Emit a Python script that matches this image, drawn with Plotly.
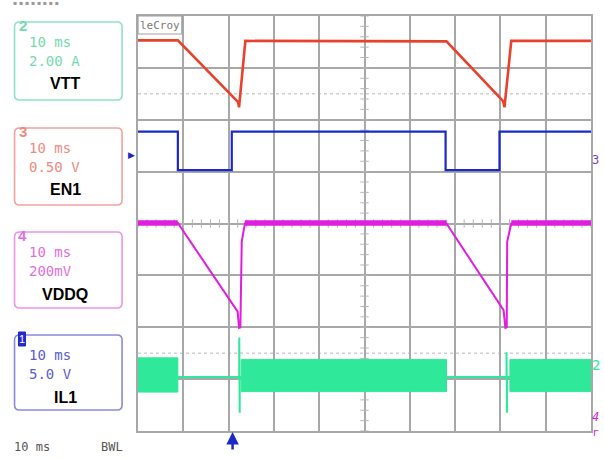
import numpy as np
import plotly.graph_objects as go

# ---------------- data (time in ms, value in screen divisions, 0 = bottom, 8 = top) -------------
vtt_t = [0, 8.8, 22.1, 22.3, 22.4, 23.7, 68.1, 80.6, 80.9, 81.0, 82.4, 100]
vtt_v = [7.53, 7.53, 6.34, 6.24, 6.33, 7.52, 7.51, 6.36, 6.24, 6.33, 7.52, 7.52]

en1_t = [0, 8.8, 8.8, 20.7, 20.7, 67.9, 67.9, 79.8, 79.8, 100]
en1_v = [5.77, 5.77, 5.03, 5.03, 5.77, 5.77, 5.03, 5.03, 5.77, 5.77]

vddq_t = [0, 8.8, 22.0, 22.3, 22.6, 22.9, 23.6, 68.1, 80.7, 81.1, 81.4, 81.5, 82.4, 100]
vddq_v = [4.01, 4.01, 2.30, 1.99, 2.00, 3.65, 4.00, 4.00, 2.33, 1.99, 2.00, 3.65, 4.00, 4.00]
vddq_ripple_start = [0, 23.6, 82.4]
vddq_ripple_end = [8.8, 68.1, 100]
vddq_ripple_top = [4.065, 4.065, 4.065]
vddq_ripple_bot = [3.955, 3.955, 3.955]

il1_band_start = [0, 22.8, 82.1]
il1_band_end = [8.8, 68.1, 100]
il1_band_top = [1.41, 1.38, 1.38]
il1_band_bot = [0.75, 0.76, 0.76]
il1_idle_t = [8.8, 22.35, 22.35, 22.45, 22.45, 22.8, None, 68.1, 81.35, 81.35, 81.45, 81.45, 82.1]
il1_idle_v = [1.04, 1.04, 1.80, 0.35, 1.04, 1.04, None, 1.04, 1.04, 1.52, 0.35, 1.04, 1.04]

channel_boxes = [
    # (channel, line1, line2, name, colour of border, colour of text, top px, bottom px)
    ("2", "10 ms", "2.00 A", "VTT", "#8fe3c2", "#74dcae", 22, 100),
    ("3", "10 ms", "0.50 V", "EN1", "#f2a3a0", "#ef8a80", 128, 205),
    ("4", "10 ms", "200mV", "VDDQ", "#eb95eb", "#e070e0", 232, 308),
    ("1", "10 ms", "5.0 V", "IL1", "#8a8ad8", "#5c5cd0", 335, 410),
]

RED = "#e8412c"
BLUE = "#1c28c8"
MAG = "#e01ee0"
GREEN = "#2fe89a"

# ---------------- geometry helpers (pixel -> paper) ----------------
W, H = 604, 459
L, R, T, B = 138, 593, 16, 431


def fx(p):
    return (p - L) / (R - L)


def fy(p):
    return (B - p) / (B - T)


fig = go.Figure()

# center graticule ticks
fig.add_trace(go.Scatter(x=np.arange(0, 100.01, 2), y=[4] * 51, mode="markers",
                         marker=dict(symbol="line-ns", size=6, line=dict(color="#b5b5b5", width=1)),
                         hoverinfo="skip", showlegend=False))
fig.add_trace(go.Scatter(x=[50] * 41, y=np.arange(0, 8.01, 0.2), mode="markers",
                         marker=dict(symbol="line-ew", size=6, line=dict(color="#b5b5b5", width=1)),
                         hoverinfo="skip", showlegend=False))

# IL1 switching band
for s, e, tp, bt in zip(il1_band_start, il1_band_end, il1_band_top, il1_band_bot):
    fig.add_trace(go.Scatter(x=[s, e, e, s, s], y=[tp, tp, bt, bt, tp], mode="lines",
                             fill="toself", fillcolor=GREEN, line=dict(color=GREEN, width=1),
                             hoverinfo="skip", showlegend=False))
fig.add_trace(go.Scatter(x=il1_idle_t, y=il1_idle_v, mode="lines",
                         line=dict(color=GREEN, width=2), showlegend=False))

# VDDQ ripple + trace
for s, e, tp, bt in zip(vddq_ripple_start, vddq_ripple_end, vddq_ripple_top, vddq_ripple_bot):
    fig.add_trace(go.Scatter(x=[s, e, e, s, s], y=[tp, tp, bt, bt, tp], mode="lines",
                             fill="toself", fillcolor=MAG, line=dict(color=MAG, width=0),
                             hoverinfo="skip", showlegend=False))
fig.add_trace(go.Scatter(x=vddq_t, y=vddq_v, mode="lines",
                         line=dict(color=MAG, width=2), showlegend=False))

# EN1
fig.add_trace(go.Scatter(x=en1_t, y=en1_v, mode="lines",
                         line=dict(color=BLUE, width=2.2), showlegend=False))
# VTT
fig.add_trace(go.Scatter(x=vtt_t, y=vtt_v, mode="lines",
                         line=dict(color=RED, width=2.6), showlegend=False))

shapes = []
annotations = []


def note(x, y, text, size, color, family="DejaVu Sans Mono", xanchor="center", **kw):
    d = dict(xref="paper", yref="paper", x=fx(x), y=fy(y), text=text, showarrow=False,
             xanchor=xanchor, yanchor="middle", font=dict(family=family, size=size, color=color))
    d.update(kw)
    annotations.append(d)


# light dotted reference lines
for yv in (6.5, 1.5):
    shapes.append(dict(type="line", xref="x", yref="y", x0=0, x1=100, y0=yv, y1=yv,
                       line=dict(color="#cfcfcf", width=1.5, dash="dot"), layer="below"))

# LeCroy tag
shapes.append(dict(type="rect", xref="paper", yref="paper", x0=fx(138), x1=fx(182), y0=fy(34), y1=fy(16),
                   line=dict(color="#a0a0a0", width=1.2), fillcolor="white"))
note(160, 26, "leCroy", 11, "#7a7a7a")


def rbox(x0, y0, x1, y1, r=5):
    a, b = fx(x0), fx(x1)
    top, bot = fy(y0), fy(y1)
    rx, ry = r / (R - L), r / (B - T)
    return (f"M {a+rx},{top} L {b-rx},{top} Q {b},{top} {b},{top-ry} L {b},{bot+ry} "
            f"Q {b},{bot} {b-rx},{bot} L {a+rx},{bot} Q {a},{bot} {a},{bot+ry} "
            f"L {a},{top-ry} Q {a},{top} {a+rx},{top} Z")


for ch, l1, l2, name, bcol, tcol, top, bot in channel_boxes:
    shapes.append(dict(type="path", xref="paper", yref="paper", path=rbox(14, top, 122, bot),
                       line=dict(color=bcol, width=1.6)))
    note(27, top + 20, l1, 14, tcol, xanchor="left")
    note(27, top + 39, l2, 14, tcol, xanchor="left")
    note(65, top + 62, f"<b>{name}</b>", 16, "black", family="Liberation Sans")
    if ch == "1":
        shapes.append(dict(type="rect", xref="paper", yref="paper", x0=fx(18), x1=fx(25), y0=fy(346), y1=fy(332),
                           line=dict(color=BLUE, width=1), fillcolor="#2a2ad0"))
        note(21.5, 339, "1", 11, "white", family="Liberation Sans")
    else:
        note(22, top + 3, f"<b>{ch}</b>", 15, tcol, family="Liberation Sans")

# bottom status texts
note(11, 447, "10 ms", 12, "#555555", xanchor="left")
note(99, 447, "BWL", 12, "#555555", xanchor="left")
# cut-off top text
note(10, 3, "▪ ▪ ▪ ▪ ▪ ▪ ▪ ▪", 6, "#9a9a9a", family="DejaVu Sans", xanchor="left")

# trigger arrow
annotations.append(dict(xref="paper", yref="paper", x=fx(233), y=fy(432), ax=0, ay=19, text="",
                        showarrow=True, arrowhead=2, arrowsize=1, arrowwidth=2.5, arrowcolor=BLUE))
# left channel marker
note(131, 155, "▶", 9, BLUE, family="DejaVu Sans")
# right side markers
note(598, 160, "3", 12, "#7a3ac8")
note(598, 365, "2", 14, GREEN)
note(598, 417, "<i>4</i>", 12, MAG)
note(598, 433, "r", 11, MAG)

grid = "#a8a8a8"
fig.update_layout(
    width=W, height=H,
    margin=dict(l=L, r=W - R, t=T, b=H - B, pad=0),
    paper_bgcolor="white", plot_bgcolor="white",
    showlegend=False,
    xaxis=dict(range=[0, 100], dtick=10, tick0=0, showgrid=True, gridcolor=grid, gridwidth=1.5,
               zeroline=False, showticklabels=False, ticks="", showline=True, mirror=True,
               linecolor=grid, linewidth=1.5, fixedrange=True),
    yaxis=dict(range=[0, 8], dtick=1, tick0=0, showgrid=True, gridcolor=grid, gridwidth=1.5,
               zeroline=False, showticklabels=False, ticks="", showline=True, mirror=True,
               linecolor=grid, linewidth=1.5, fixedrange=True),
    shapes=shapes,
    annotations=annotations,
)

fig.write_html("out.html", config={"displayModeBar": False},
               post_script="document.body.style.margin='0px';document.body.style.overflow='hidden';")
